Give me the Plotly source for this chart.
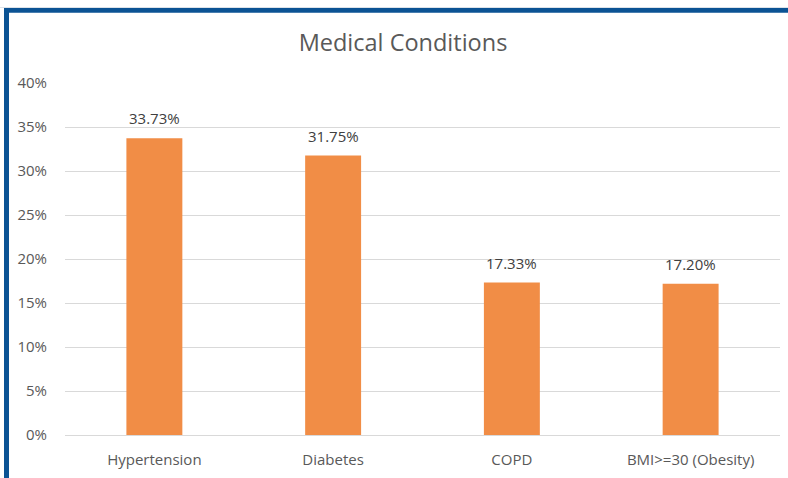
import plotly.graph_objects as go

categories = ["Hypertension", "Diabetes", "COPD", "BMI>=30 (Obesity)"]
values = [33.73, 31.75, 17.33, 17.20]
labels = ["33.73%", "31.75%", "17.33%", "17.20%"]
tick_vals = [0, 5, 10, 15, 20, 25, 30, 35, 40]
tick_text = ["0%", "5%", "10%", "15%", "20%", "25%", "30%", "35%", "40%"]

W, H = 788, 478
L, R, T, B = 65, 8, 83, 43
pw, ph = W - L - R, H - T - B
FONT = "Open Sans, Lato, sans-serif"

def px_x(x):
    return (x - L) / pw

def px_y(y):
    return (H - B - y) / ph

fig = go.Figure(go.Bar(
    x=categories, y=values,
    marker_color="#F18D46", marker_line_width=0,
    hoverinfo="skip",
))

for c, v, t in zip(categories, values, labels):
    fig.add_annotation(x=c, y=v, text=t, showarrow=False,
                       yanchor="bottom", yshift=8,
                       font=dict(family=FONT, size=15, color="#404040"))

fig.update_layout(
    width=W, height=H,
    margin=dict(l=L, r=R, t=T, b=B),
    paper_bgcolor="white", plot_bgcolor="white",
    font=dict(family=FONT, color="#595959"),
    bargap=0.687,
    showlegend=False,
    title=dict(text="Medical Conditions", x=403 / W, xanchor="center",
               y=1 - 43 / H, yanchor="middle",
               font=dict(size=23.5, color="#595959")),
    xaxis=dict(showgrid=False, showline=False, ticks="", ticklabelstandoff=14,
               tickfont=dict(size=15, color="#595959")),
    yaxis=dict(range=[0, 40], tickvals=tick_vals, ticktext=tick_text,
               showgrid=True, gridcolor="#D9D9D9", gridwidth=1,
               zeroline=True, zerolinecolor="#D9D9D9", zerolinewidth=1,
               showline=False, ticks="", ticklabelstandoff=17,
               tickfont=dict(size=15, color="#595959")),
    shapes=[
        dict(type="rect", xref="paper", yref="paper",
             x0=px_x(0), x1=px_x(W), y0=px_y(7), y1=px_y(7.8),
             fillcolor="#D0D8E0", line_width=0, layer="above"),
        dict(type="rect", xref="paper", yref="paper",
             x0=px_x(4), x1=px_x(W), y0=px_y(12.7), y1=px_y(8),
             fillcolor="#0B5394", line_width=0, layer="above"),
        dict(type="rect", xref="paper", yref="paper",
             x0=px_x(4), x1=px_x(9), y0=px_y(H), y1=px_y(8),
             fillcolor="#0B5394", line_width=0, layer="above"),
    ],
)

fig.write_html("out.html", config={"displayModeBar": False},
               post_script="document.body.style.margin='0';")
